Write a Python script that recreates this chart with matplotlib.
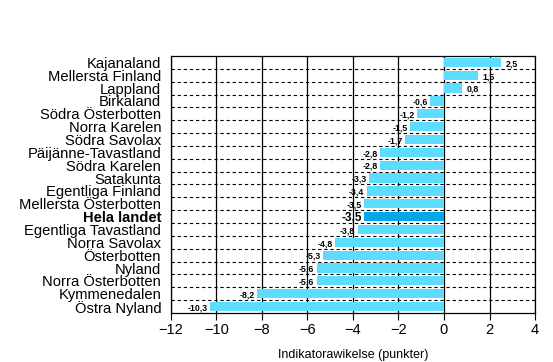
import numpy as np
import matplotlib.pyplot as plt

regions = ["Kajanaland", "Mellersta Finland", "Lappland", "Birkaland",
           "Södra Österbotten", "Norra Karelen", "Södra Savolax",
           "Päijänne-Tavastland", "Södra Karelen", "Satakunta",
           "Egentliga Finland", "Mellersta Österbotten", "Hela landet",
           "Egentliga Tavastland", "Norra Savolax", "Österbotten", "Nyland",
           "Norra Österbotten", "Kymmenedalen", "Östra Nyland"]
values = [2.5, 1.5, 0.8, -0.6, -1.2, -1.5, -1.7, -2.8, -2.8, -3.3, -3.4,
          -3.5, -3.5, -3.8, -4.8, -5.3, -5.6, -5.6, -8.2, -10.3]
highlight = "Hela landet"

plt.rcParams['font.family'] = ['Liberation Sans', 'DejaVu Sans']

fig = plt.figure(figsize=(5.53, 3.62), dpi=100)
ax = fig.add_axes([0.309, 0.1354, 0.6585, 0.71])

n = len(regions)
y = np.arange(n)
colors = ['#00A8E8' if r == highlight else '#5CDCFF' for r in regions]
ax.barh(y, values, height=0.72, color=colors, zorder=2)

# dashed separators between categories
for b in np.arange(0.5, n - 1, 1.0):
    ax.axhline(b, color='black', lw=0.8, ls=(0, (3, 2.5)), zorder=1)

ax.set_xlim(-12, 4)
ax.set_ylim(n - 0.5, -0.5)
ax.set_xticks(range(-12, 5, 2))
ax.xaxis.grid(True, color='black', lw=0.9, zorder=1)
ax.set_axisbelow(True)

ax.set_yticks(y)
ax.set_yticklabels(regions, fontsize=10.6)
for lab in ax.get_yticklabels():
    if lab.get_text() == highlight:
        lab.set_fontweight('bold')
ax.tick_params(axis='y', length=0, pad=7)
ax.tick_params(axis='x', direction='out', length=5, labelsize=10.5, pad=2)

for s in ax.spines.values():
    s.set_linewidth(0.9)

for yi, v, r in zip(y, values, regions):
    txt = f"{v:.1f}".replace('.', ',')
    big = r == highlight
    fs = 8.5 if big else 6.3
    if v >= 0:
        ax.text(v + 0.2, yi + 0.1, txt, ha='left', va='center',
                fontsize=fs, fontweight='bold', zorder=3)
    else:
        ax.text(v - 0.1, yi + 0.1, txt, ha='right', va='center',
                fontsize=fs, fontweight='bold', zorder=3)

ax.set_xlabel("Indikatorawikelse (punkter)", fontsize=9, labelpad=9)

fig.savefig("out.png", dpi=100)
